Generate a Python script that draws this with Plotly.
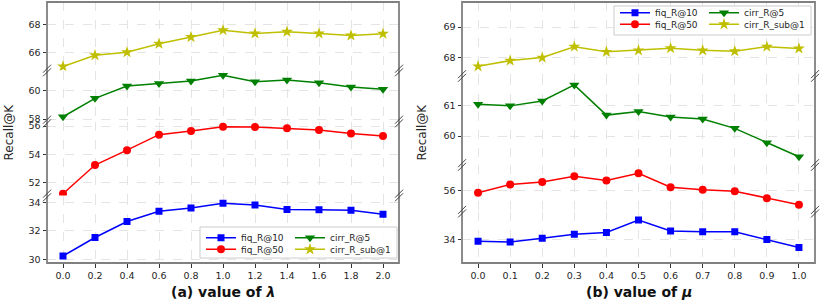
import plotly.graph_objects as go

# ---------------- data ----------------
lam = [0.0, 0.2, 0.4, 0.6, 0.8, 1.0, 1.2, 1.4, 1.6, 1.8, 2.0]
a_fiq_r10 = [30.23, 31.53, 32.65, 33.37, 33.60, 33.93, 33.81, 33.50, 33.48, 33.44, 33.16]
a_fiq_r50 = [51.22, 53.25, 54.30, 55.39, 55.65, 55.95, 55.93, 55.84, 55.72, 55.48, 55.29]
a_cirr_r5 = [58.16, 59.44, 60.30, 60.47, 60.65, 61.05, 60.60, 60.72, 60.53, 60.23, 60.07]
a_cirr_sub1 = [65.05, 65.84, 66.05, 66.65, 67.12, 67.60, 67.37, 67.49, 67.37, 67.23, 67.35]

mu = [0.0, 0.1, 0.2, 0.3, 0.4, 0.5, 0.6, 0.7, 0.8, 0.9, 1.0]
b_fiq_r10 = [33.93, 33.91, 34.03, 34.16, 34.22, 34.63, 34.27, 34.24, 34.24, 33.99, 33.73]
b_fiq_r50 = [55.93, 56.20, 56.28, 56.47, 56.33, 56.57, 56.11, 56.03, 55.98, 55.75, 55.54]
b_cirr_r5 = [61.03, 60.98, 61.14, 61.66, 60.68, 60.80, 60.62, 60.55, 60.25, 59.78, 59.33]
b_cirr_sub1 = [67.70, 67.89, 67.99, 68.35, 68.18, 68.23, 68.30, 68.23, 68.20, 68.35, 68.29]

series_names = ["fiq_R@10", "fiq_R@50", "cirr_R@5", "cirr_R_sub@1"]
x_titles = ["<b>(a) value of <i>λ</i></b>", "<b>(b) value of <i>μ</i></b>"]
y_title = "Recall@K"

# ---------------- styling / layout helpers ----------------
W, H = 822, 303
FONT = "DejaVu Sans"
colors = ["#0000ff", "#ff0000", "#008000", "#bfbf00"]
symbols = ["square", "circle", "triangle-down", "star"]
msizes = [7, 8, 9, 9]


def fx(p):
    return p / W


def fy(p):
    return 1 - p / H


panels = [
    dict(xpx=[47, 399], bounds=[263, 195.5, 121.5, 70.5, 2],
         ranges=[[29.74, 34.48], [51.10, 56.32], [57.83, 61.38], [64.77, 69.58]],
         dtick=2, xrange=[-0.1, 2.1], xdtick=0.2,
         xs=lam, ys=[a_fiq_r10, a_fiq_r50, a_cirr_r5, a_cirr_sub1],
         leg_left=201, leg_rows=[237.7, 249.3], leg_box=[200, 227, 397, 258],
         ytitle_x=8),
    dict(xpx=[462, 815], bounds=[263, 211.7, 165, 76, 2],
         ranges=[[33.22, 34.9], [55.31, 56.84], [59.06, 61.95], [67.38, 69.83]],
         dtick=1, xrange=[-0.05, 1.05], xdtick=0.1,
         xs=mu, ys=[b_fiq_r10, b_fiq_r50, b_cirr_r5, b_cirr_sub1],
         leg_left=615, leg_rows=[12.7, 24.3], leg_box=[614, 6, 811, 35],
         ytitle_x=421),
]

fig = go.Figure()
layout = dict(
    width=W, height=H, autosize=False,
    margin=dict(l=0, r=0, t=0, b=0, autoexpand=False),
    paper_bgcolor="white", plot_bgcolor="white",
    font=dict(family=FONT, size=9.5, color="#262626"),
    showlegend=True,
)
shapes = []
annotations = []
legend_widths = [44, 62]
legend_row_of = [0, 1, 0, 1]   # fiq10,cirr5 in row 1; fiq50,sub1 in row 2
legend_col_of = [0, 0, 1, 1]

for pi, P in enumerate(panels):
    xname = "x" if pi == 0 else "x2"
    xkey = "xaxis" if pi == 0 else "xaxis2"
    ybase = 1 + pi * 4
    layout[xkey] = dict(
        domain=[fx(P["xpx"][0]), fx(P["xpx"][1])], range=P["xrange"],
        anchor="y" if pi == 0 else "y5", dtick=P["xdtick"], tick0=0, tickformat=".1f",
        showgrid=True, gridcolor="#e4e4e4", griddash="dash", gridwidth=0.8,
        zeroline=False, showline=False, ticks="outside", ticklen=3.5,
        tickwidth=0.8, tickcolor="#333333", tickfont=dict(size=9.5, family=FONT),
    )
    for s in range(4):
        yi = ybase + s
        ykey = "yaxis" if yi == 1 else f"yaxis{yi}"
        yname = "y" if yi == 1 else f"y{yi}"
        top = P["bounds"][s + 1]
        bot = P["bounds"][s]
        layout[ykey] = dict(
            domain=[fy(bot), fy(top)], range=P["ranges"][s], anchor=xname,
            dtick=P["dtick"], tick0=0,
            showgrid=True, gridcolor="#e4e4e4", griddash="dash", gridwidth=0.8,
            zeroline=False, showline=False, ticks="outside", ticklen=3.5,
            tickwidth=0.8, tickcolor="#333333", tickfont=dict(size=9.5, family=FONT),
        )
        row = legend_row_of[s]
        lid_num = 1 + pi * 2 + row
        lid = "legend" if lid_num == 1 else f"legend{lid_num}"
        fig.add_trace(go.Scatter(
            x=P["xs"], y=P["ys"][s], name=series_names[s], mode="lines+markers",
            xaxis=xname, yaxis=yname,
            line=dict(color=colors[s], width=1.5),
            marker=dict(symbol=symbols[s], size=msizes[s], color=colors[s]),
            legend=lid, legendwidth=legend_widths[legend_col_of[s]],
        ))
    # legends: two single-row horizontal legends stacked
    for row in range(2):
        lid_num = 1 + pi * 2 + row
        lkey = "legend" if lid_num == 1 else f"legend{lid_num}"
        layout[lkey] = dict(
            orientation="h", x=fx(P["leg_left"]), xanchor="left",
            y=fy(P["leg_rows"][row]), yanchor="middle",
            bgcolor="rgba(0,0,0,0)", borderwidth=0,
            font=dict(size=9, family=FONT, color="#262626"),
            tracegroupgap=0,
        )
    # panel frame
    x0, x1 = P["xpx"]
    shapes.append(dict(type="rect", xref="paper", yref="paper",
                       x0=fx(x0), x1=fx(x1), y0=fy(263), y1=fy(2),
                       line=dict(color="#808080", width=1.8), fillcolor="rgba(0,0,0,0)",
                       layer="above"))
    # break marks
    for b in P["bounds"][1:4]:
        for xx in (x0, x1):
            for off in (-1.8, 1.8):
                shapes.append(dict(type="line", xref="paper", yref="paper",
                                   x0=fx(xx - 4), y0=fy(b + off + 4),
                                   x1=fx(xx + 4), y1=fy(b + off - 4),
                                   line=dict(color="#444444", width=1), layer="above"))
    # legend box
    lb = P["leg_box"]
    shapes.append(dict(type="rect", xref="paper", yref="paper",
                       x0=fx(lb[0]), x1=fx(lb[2]), y0=fy(lb[3]), y1=fy(lb[1]),
                       line=dict(color="#cccccc", width=1), fillcolor="rgba(255,255,255,0.9)",
                       layer="above"))
    # titles
    annotations.append(dict(text=x_titles[pi], xref="paper", yref="paper",
                            x=fx((x0 + x1) / 2), y=fy(292), xanchor="center", yanchor="middle",
                            showarrow=False, font=dict(size=14, family=FONT, color="#111111")))
    annotations.append(dict(text=y_title, xref="paper", yref="paper", textangle=-90,
                            x=fx(P["ytitle_x"]), y=fy(132.5), xanchor="center", yanchor="middle",
                            showarrow=False, font=dict(size=12, family=FONT, color="#262626")))

layout["shapes"] = shapes
layout["annotations"] = annotations
fig.update_layout(**layout)
fig.write_html(
    "out.html",
    config={"displayModeBar": False},
    post_script="document.body.style.margin='0px';document.body.style.overflow='hidden';",
)
